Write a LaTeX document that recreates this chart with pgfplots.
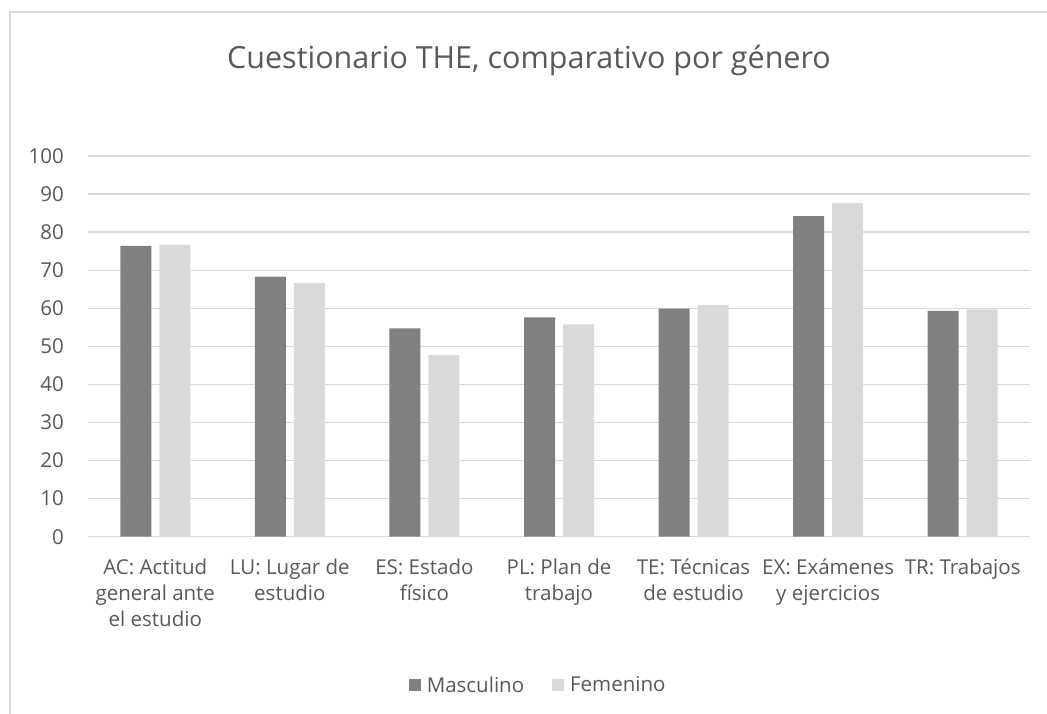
\documentclass[border=0pt]{standalone}
\usepackage{pgfplots}
\pgfplotsset{compat=1.18}
\usepackage{fontspec}
\setmainfont{Open Sans}
\definecolor{txt}{HTML}{595959}
\definecolor{gridc}{HTML}{D9D9D9}
\definecolor{masc}{HTML}{808080}
\definecolor{fem}{HTML}{D9D9D9}
\begin{document}
\begin{tikzpicture}
\useasboundingbox (0,0) rectangle (1047bp,714bp);
\draw[gridc, line width=2bp] (10bp,0) -- (10bp,702bp) -- (1047bp,702bp);
\node[text=txt, font=\fontsize{30.5bp}{34bp}\selectfont] at (529bp,654bp) {Cuestionario THE, comparativo por género};
\begin{axis}[
  at={(88bp,177.3bp)}, anchor=south west,
  scale only axis, width=942bp, height=380.7bp,
  xmin=-0.5, xmax=6.5, ymin=0, ymax=100,
  ybar=8bp, bar width=31bp,
  ytick={0,10,...,100},
  xtick={0,...,6},
  xticklabels={{AC: Actitud\\general ante\\el estudio},{LU: Lugar de\\estudio},{ES: Estado\\físico},{PL: Plan de\\trabajo},{TE: Técnicas\\de estudio},{EX: Exámenes\\y ejercicios},{TR: Trabajos}},
  major tick length=0pt,
  axis x line*=bottom, axis y line*=left,
  x axis line style={gridc, line width=1.3bp, -},
  y axis line style={draw=none},
  ymajorgrids, grid style={gridc, line width=1.3bp},
  /pgf/number format/assume math mode=true,
  tick label style={text=txt, font=\fontsize{20.5bp}{26bp}\selectfont},
  yticklabel style={inner sep=0pt, xshift=-24bp},
  xticklabel style={inner sep=0pt, align=center, yshift=-22bp},
  legend style={at={(0.48,-0.39)}, anchor=center, draw=none, fill=none,
    legend columns=2, font=\fontsize{20.5bp}{24bp}\selectfont, text=txt,
    /tikz/every even column/.append style={column sep=22bp},
    nodes={inner xsep=6bp}},
  legend image code/.code={\fill[#1] (0bp,-6bp) rectangle (12bp,6bp);},
]
\addplot[fill=masc, draw=none] coordinates {(0,76.4) (1,68.3) (2,54.7) (3,57.6) (4,59.9) (5,84.2) (6,59.3)};
\addplot[fill=fem, draw=none] coordinates {(0,76.7) (1,66.6) (2,47.7) (3,55.8) (4,60.9) (5,87.6) (6,59.7)};
\legend{Masculino, Femenino}
\end{axis}
\end{tikzpicture}
\end{document}
